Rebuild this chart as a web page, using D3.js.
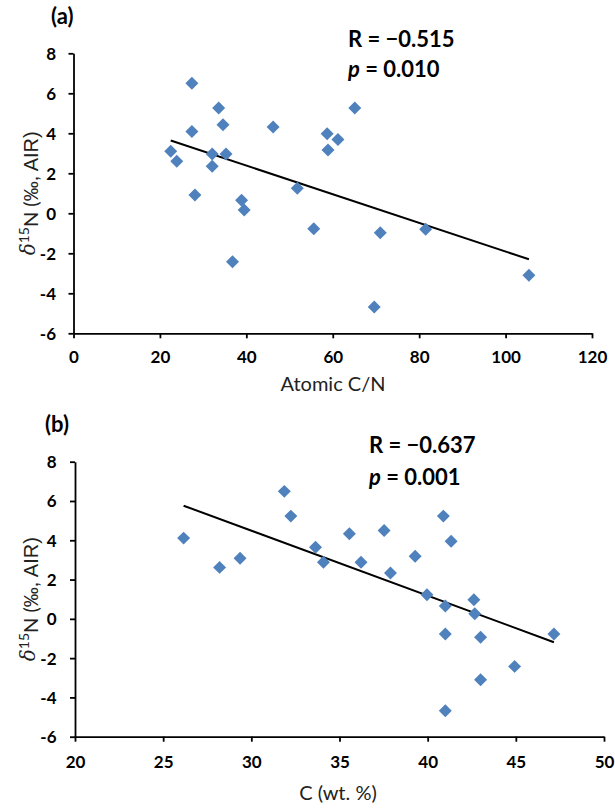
<!DOCTYPE html>
<html>
<head>
<meta charset="utf-8">
<script src="https://cdn.jsdelivr.net/npm/d3@7"></script>
<style>
  body { margin: 0; background: #fff; }
  svg { display: block; }
</style>
</head>
<body>
<svg id="chart" width="615" height="812"></svg>
<script>
// ---- data: panel (a) atomic C/N vs d15N
const aCN   = [22.5, 23.9, 27.4, 27.4, 28.1, 32.1, 32.1, 33.6, 34.6, 35.3, 36.8, 38.9, 39.5, 46.2, 51.8, 55.6, 58.7, 58.9, 61.2, 65.1, 69.6, 71.0, 81.5, 105.4];
const aD15N = [3.10, 2.60, 6.50, 4.09, 0.92, 2.97, 2.35, 5.27, 4.43, 2.97, -2.42, 0.65, 0.17, 4.31, 1.25, -0.77, 3.98, 3.17, 3.69, 5.27, -4.68, -0.97, -0.80, -3.10];
const aTrendX = [22.5, 105.4];
const aTrendY = [3.64, -2.30];

// ---- data: panel (b) C wt.% vs d15N
const bC    = [26.16, 28.2, 29.36, 31.87, 32.24, 33.64, 34.09, 35.56, 36.22, 37.53, 37.89, 39.29, 40.89, 41.33, 39.96, 42.62, 41.0, 42.67, 41.0, 43.0, 47.16, 44.93, 43.0, 41.0];
const bD15N = [4.11, 2.62, 3.08, 6.49, 5.23, 3.65, 2.88, 4.33, 2.88, 4.50, 2.33, 3.19, 5.23, 3.95, 1.23, 0.97, 0.65, 0.26, -0.77, -0.94, -0.77, -2.42, -3.10, -4.68];
const bTrendX = [26.16, 47.16];
const bTrendY = [5.76, -1.19];

// ---- tick labels
const aXTicks = [0, 20, 40, 60, 80, 100, 120];
const bXTicks = [20, 25, 30, 35, 40, 45, 50];
const yTicks  = [-6, -4, -2, 0, 2, 4, 6, 8];

const svg = d3.select("#chart");
const tickFont = "Lato, 'Open Sans', sans-serif";
const blue = "#4F81BD";

function panel(cfg) {
  const g = svg.append("g");
  const x = d3.scaleLinear().domain(cfg.xDomain).range([cfg.left, cfg.right]);
  const y = d3.scaleLinear().domain([-6, 8]).range([cfg.bottom, cfg.top]);

  // axes
  const xa = g.append("g").attr("transform", `translate(0,${cfg.bottom})`)
    .call(d3.axisBottom(x).tickValues(cfg.xTicks).tickSize(5).tickSizeOuter(0).tickFormat(d3.format("d")));
  const ya = g.append("g").attr("transform", `translate(${cfg.left},0)`)
    .call(d3.axisLeft(y).tickValues(yTicks).tickSize(5).tickSizeOuter(0).tickFormat(d => d < 0 ? "-" + Math.abs(d) : d));
  [xa, ya].forEach(a => {
    a.select(".domain").attr("stroke", "#000").attr("stroke-width", 1.8);
    a.selectAll(".tick line").attr("stroke", "#000").attr("stroke-width", 1.8);
    a.selectAll("text").attr("fill", "#000").style("font-family", tickFont)
      .style("font-weight", "bold").style("font-size", "17px");
  });
  xa.selectAll("text").attr("y", cfg.xLabelOff).attr("dy", "0.35em");
  ya.selectAll("text").attr("x", -cfg.yLabelOff).attr("dy", "0.35em");

  // trend line
  const pts = cfg.trendX.map((v, i) => [x(v), y(cfg.trendY[i])]);
  g.append("path").attr("d", d3.line()(pts)).attr("stroke", "#000")
    .attr("stroke-width", 2).attr("fill", "none");

  // points
  const sym = d3.symbol().type(d3.symbolSquare).size(84);
  g.selectAll(".pt").data(cfg.xs).enter().append("path")
    .attr("class", "pt")
    .attr("d", sym)
    .attr("transform", (d, i) => `translate(${x(d)},${y(cfg.ys[i])}) rotate(45)`)
    .attr("fill", blue);

  // panel label
  g.append("text").attr("x", cfg.tagX).attr("y", cfg.tagY).text(cfg.tag)
    .style("font-family", tickFont).style("font-weight", "bold").style("font-size", "22px");

  // stats
  const st = g.append("text").attr("x", cfg.statX).attr("y", cfg.statY)
    .style("font-family", tickFont).style("font-weight", "bold").style("font-size", "22px");
  st.text(cfg.rText);
  const st2 = g.append("text").attr("x", cfg.statX).attr("y", cfg.statY + cfg.statGap)
    .style("font-family", tickFont).style("font-weight", "bold").style("font-size", "22px");
  st2.append("tspan").text("p").style("font-style", "italic");
  st2.append("tspan").text(" = " + cfg.pText);

  // x title
  g.append("text").attr("x", cfg.xTitleX).attr("y", cfg.xTitleY).attr("text-anchor", "middle")
    .attr("dy", "0.35em").text(cfg.xTitle)
    .style("font-family", tickFont).style("font-size", "20px").attr("fill", "#222");

  // y title
  const yt = g.append("text")
    .attr("transform", `translate(28,${(cfg.top + cfg.bottom) / 2}) rotate(-90)`)
    .attr("text-anchor", "middle").attr("dy", "0.35em")
    .style("font-size", "20px").attr("fill", "#222");
  yt.append("tspan").text("δ").style("font-family", "'DejaVu Serif', serif").style("font-style", "italic");
  yt.append("tspan").text("15").style("font-family", tickFont).style("font-size", "14px").attr("dy", "-0.45em");
  yt.append("tspan").text("N (").style("font-family", tickFont).attr("dy", "0.45em");
  yt.append("tspan").text("‰, AIR)").style("font-family", "'Liberation Sans', Arial, sans-serif");
}

panel({
  xDomain: [0, 120], xTicks: aXTicks, left: 73.5, right: 592, top: 53.3, bottom: 333.3,
  xs: aCN, ys: aD15N, trendX: aTrendX, trendY: aTrendY,
  xLabelOff: 24, yLabelOff: 17.5,
  tag: "(a)", tagX: 51, tagY: 24,
  rText: "R = \u22120.515", pText: "0.010", statX: 348, statY: 47, statGap: 30,
  xTitle: "Atomic C/N", xTitleX: 333, xTitleY: 384
});

panel({
  xDomain: [20, 50], xTicks: bXTicks, left: 75, right: 604, top: 461.7, bottom: 736.7,
  xs: bC, ys: bD15N, trendX: bTrendX, trendY: bTrendY,
  xLabelOff: 25, yLabelOff: 18.5,
  tag: "(b)", tagX: 45, tagY: 432,
  rText: "R = \u22120.637", pText: "0.001", statX: 369, statY: 453, statGap: 32,
  xTitle: "C (wt. %)", xTitleX: 338, xTitleY: 793
});
</script>
</body>
</html>
